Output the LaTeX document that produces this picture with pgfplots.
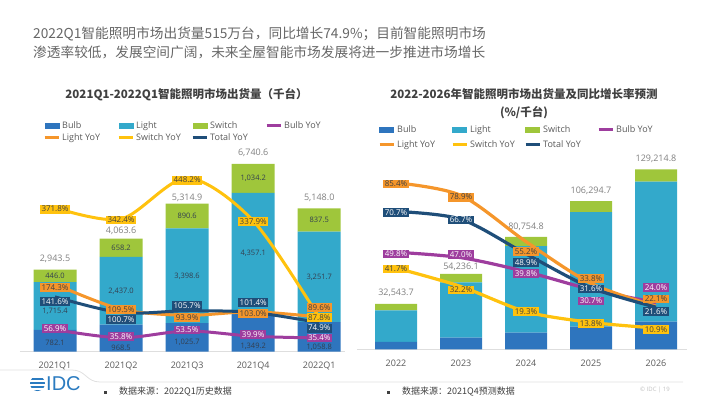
\documentclass[border=0pt]{standalone}
\usepackage{pgfplots}
\pgfplotsset{compat=1.18}
\usepackage{pgfplotstable}
\usepackage{fontspec}
\setmainfont{Open Sans}
\newfontfamily\cjk{Noto Sans CJK SC}
\newfontfamily\idcfont{Liberation Sans}
\definecolor{bulbc}{HTML}{2E75BE}
\definecolor{lightc}{HTML}{33A9CB}
\definecolor{switchc}{HTML}{9FC63B}
\definecolor{byoy}{HTML}{9E3D9E}
\definecolor{lyoy}{HTML}{F5962B}
\definecolor{syoy}{HTML}{FFC20E}
\definecolor{tyoy}{HTML}{1F4E79}
\definecolor{txtgray}{HTML}{595959}
\definecolor{titlegray}{HTML}{666666}
\definecolor{lbl}{HTML}{333F50}
\definecolor{totgray}{HTML}{808080}
\definecolor{idcblue}{HTML}{2B7BC0}
\definecolor{dark}{HTML}{404040}
\pgfkeys{/pgf/number format/assume math mode=true}

% ---------- left chart: YoY lines (x, value, label shift) ----------
\pgfplotstableread{
x y dy
0 56.9 1
1 35.8 1
2 53.5 1
3 39.9 2
4 35.4 0
}\LbY
\pgfplotstableread{
x y dy
0 174.3 -3
1 109.5 0
2 93.9 -2.4
3 103.0 -2
4 89.6 9.3
}\LlY
\pgfplotstableread{
x y dy
0 371.8 -1.4
1 342.4 -1
2 448.2 -2
3 337.9 -1
4 87.8 0
}\LsY
\pgfplotstableread{
x y dy
0 141.6 -4.5
1 100.7 -7
2 105.7 5.4
3 101.4 9.7
4 74.9 -5.4
}\LtY
% ---------- left chart: label positions (x, position, value) ----------
\pgfplotstableread{
x p v
0 301.6 782.1
1 122 968.5
2 323 1025.7
3 179.5 1349.2
4 158 1058.8
}\LbulbLab
\pgfplotstableread{
x p v
0 1436 1715.4
1 2187 2437.0
2 2725 3398.6
3 3528 4357.1
4 2685 3251.7
}\LlightLab
\pgfplotstableread{
x p v
0 2720.5 446.0
1 3734.6 658.2
2 4869.6 890.6
3 6223.4 1034.2
4 4729.3 837.5
}\LswitchLab
\pgfplotstableread{
x p v
0 3318 2943.5
1 4345 4063.6
2 5530 5314.9
3 7124 6740.6
4 5530 5148.0
}\LtotLab
% ---------- right chart ----------
\pgfplotstableread{
x y dy
0 49.8 -1.8
1 47.0 2.7
2 39.8 -1.6
3 30.7 -11.6
4 24.0 14.8
}\RbY
\pgfplotstableread{
x y dy
0 85.4 -1.2
1 78.9 -1.6
2 55.2 -10
3 33.8 5.1
4 22.1 7.2
}\RlY
\pgfplotstableread{
x y dy
0 41.7 -1
1 32.2 -3.5
2 19.3 0
3 13.8 -0.9
4 10.9 -1.3
}\RsY
\pgfplotstableread{
x y dy
0 70.7 -0.9
1 66.7 -0.8
2 48.9 -8.3
3 31.6 -1.3
4 21.6 -4.5
}\RtY
\pgfplotstableread{
x p v
0 40201 32543.7
1 58866 54236.1
2 88012 80754.8
3 113640 106294.7
4 136396 129214.8
}\RtotLab

\pgfplotsset{
  Lframe/.style={scale only axis, anchor=south west, at={(20pt,-351.7pt)}, width=325pt, height=191.7pt, xmin=-0.53, xmax=4.39, enlargelimits=false, clip=false},
  Rframe/.style={scale only axis, anchor=south west, at={(357pt,-349.3pt)}, width=330pt, height=189.3pt, xmin=-0.6, xmax=4.477, enlargelimits=false, clip=false},
  barax/.style={ybar stacked, ymin=0, axis x line*=bottom, axis y line=none, x axis line style={draw=black!13, line width=0.8pt, -}, xtick={0,...,4}, major tick length=0pt, xtick style={draw=none}, xticklabel style={font=\fontsize{9}{10}\selectfont, text=txtgray, yshift=-7pt}},
  seglab/.style={draw=none, mark=none, point meta=explicit, nodes near coords={\pgfmathprintnumber[fixed,fixed zerofill,precision=1,1000 sep={,}]{\pgfplotspointmeta}}, every node near coord/.append style={anchor=center, font=\fontsize{7.5}{8}\selectfont, text=lbl, inner sep=0pt}},
  totlab/.style={draw=none, mark=none, point meta=explicit, nodes near coords={\pgfmathprintnumber[fixed,fixed zerofill,precision=1,1000 sep={,}]{\pgfplotspointmeta}}, every node near coord/.append style={anchor=center, font=\fontsize{9}{10}\selectfont, text=totgray, inner sep=0pt}},
  yoylab/.style n args={2}{draw=none, mark=none, forget plot, point meta=y, visualization depends on={\thisrow{dy}\as\lbldy}, nodes near coords={\pgfmathprintnumber[fixed,fixed zerofill,precision=1]{\pgfplotspointmeta}\%}, every node near coord/.append style={anchor=center, yshift=\lbldy*1pt, fill=#1, text=#2, font=\fontsize{8}{9}\selectfont, inner sep=1.5pt}},
}

\begin{document}
\begin{tikzpicture}
% ---------- headline ----------
\node[anchor=base west, inner sep=0pt, text=titlegray, font=\cjk\fontsize{13.7}{16}\selectfont] at (33pt,-38pt) {2022Q1智能照明市场出货量515万台，同比增长74.9\%；目前智能照明市场};
\node[anchor=base west, inner sep=0pt, text=titlegray, font=\cjk\fontsize{13.7}{16}\selectfont] at (33pt,-57.5pt) {渗透率较低，发展空间广阔，未来全屋智能市场发展将进一步推进市场增长};
% ---------- chart titles ----------
\node[inner sep=0pt, text=dark, font=\cjk\bfseries\fontsize{11.5}{14}\selectfont] at (186.5pt,-94.3pt) {2021Q1-2022Q1智能照明市场出货量（千台）};
\node[inner sep=0pt, text=dark, font=\cjk\bfseries\fontsize{11.5}{14}\selectfont] at (524pt,-94.3pt) {2022-2026年智能照明市场出货量及同比增长率预测};
\node[inner sep=0pt, text=dark, font=\cjk\bfseries\fontsize{11.5}{14}\selectfont] at (524pt,-113pt) {(\%/千台)};

% ================= LEFT CHART =================
\begin{axis}[Lframe, barax, ymax=6883, bar width=43pt,
  xticklabels={2021Q1,2021Q2,2021Q3,2021Q4,2022Q1}]
\addplot[fill=bulbc, draw=none] coordinates {(0,782.1) (1,968.5) (2,1025.7) (3,1349.2) (4,1058.8)};
\addplot[fill=lightc, draw=none] coordinates {(0,1715.4) (1,2437.0) (2,3398.6) (3,4357.1) (4,3251.7)};
\addplot[fill=switchc, draw=none] coordinates {(0,446.0) (1,658.2) (2,890.6) (3,1034.2) (4,837.5)};
\end{axis}
\begin{axis}[Lframe, hide axis, ymin=0, ymax=6883]
\addplot[seglab] table[x=x,y=p,meta=v] {\LbulbLab};
\addplot[seglab] table[x=x,y=p,meta=v] {\LlightLab};
\addplot[seglab] table[x=x,y=p,meta=v] {\LswitchLab};
\addplot[totlab] table[x=x,y=p,meta=v] {\LtotLab};
\end{axis}
\begin{axis}[Lframe, hide axis, ymin=0, ymax=494.8,
  legend columns=4, legend cell align=left,
  legend style={at={(axis description cs:0.0708,1.2139)}, anchor=north west, draw=none, fill=none, inner sep=0pt, font=\fontsize{9}{10}\selectfont, text=txtgray, row sep=0pt, nodes={inner sep=2pt}},
  legend image code/.code={\draw[#1, line width=3pt] (0pt,0pt) -- (14pt,0pt);}]
\addlegendimage{legend image code/.code={\fill[bulbc] (0pt,-2.5pt) rectangle (14pt,2.5pt);}}
\addlegendentry{\makebox[53pt][l]{Bulb}}
\addlegendimage{legend image code/.code={\fill[lightc] (0pt,-2.5pt) rectangle (14pt,2.5pt);}}
\addlegendentry{\makebox[53pt][l]{Light}}
\addlegendimage{legend image code/.code={\fill[switchc] (0pt,-2.5pt) rectangle (14pt,2.5pt);}}
\addlegendentry{\makebox[53pt][l]{Switch}}
\addplot[byoy, line width=3pt, smooth] table[x=x,y=y] {\LbY};
\addlegendentry{Bulb YoY}
\addplot[lyoy, line width=3pt, smooth] table[x=x,y=y] {\LlY};
\addlegendentry{\makebox[53pt][l]{Light YoY}}
\addplot[syoy, line width=3pt, smooth] table[x=x,y=y] {\LsY};
\addlegendentry{\makebox[53pt][l]{Switch YoY}}
\addplot[tyoy, line width=3pt, smooth] table[x=x,y=y] {\LtY};
\addlegendentry{Total YoY}
\addplot[yoylab={byoy}{white}] table[x=x,y=y] {\LbY};
\addplot[yoylab={lyoy}{dark}] table[x=x,y=y] {\LlY};
\addplot[yoylab={syoy}{dark}] table[x=x,y=y] {\LsY};
\addplot[yoylab={tyoy}{white}] table[x=x,y=y] {\LtY};
\end{axis}

% ================= RIGHT CHART =================
\begin{axis}[Rframe, barax, ymax=135894, bar width=42pt,
  xticklabels={2022,2023,2024,2025,2026}]
\addplot[fill=bulbc, draw=none] coordinates {(0,5400) (1,8300) (2,11900) (3,16220) (4,19800)};
\addplot[fill=lightc, draw=none] coordinates {(0,22500) (1,39736.1) (2,62104.8) (3,82174.7) (4,100514.8)};
\addplot[fill=switchc, draw=none] coordinates {(0,4643.7) (1,6200) (2,6750) (3,7900) (4,8900)};
\end{axis}
\begin{axis}[Rframe, hide axis, ymin=0, ymax=135894]
\addplot[totlab] table[x=x,y=p,meta=v] {\RtotLab};
\end{axis}
\begin{axis}[Rframe, hide axis, ymin=0, ymax=97.08,
  legend columns=4, legend cell align=left,
  legend style={at={(axis description cs:0.0636,1.1955)}, anchor=north west, draw=none, fill=none, inner sep=0pt, font=\fontsize{9}{10}\selectfont, text=txtgray, row sep=3pt, nodes={inner sep=2pt}},
  legend image code/.code={\draw[#1, line width=3pt] (0pt,0pt) -- (14pt,0pt);}]
\addlegendimage{legend image code/.code={\fill[bulbc] (0pt,-2.5pt) rectangle (14pt,2.5pt);}}
\addlegendentry{\makebox[52pt][l]{Bulb}}
\addlegendimage{legend image code/.code={\fill[lightc] (0pt,-2.5pt) rectangle (14pt,2.5pt);}}
\addlegendentry{\makebox[52pt][l]{Light}}
\addlegendimage{legend image code/.code={\fill[switchc] (0pt,-2.5pt) rectangle (14pt,2.5pt);}}
\addlegendentry{\makebox[52pt][l]{Switch}}
\addplot[byoy, line width=3.2pt, smooth] table[x=x,y=y] {\RbY};
\addlegendentry{Bulb YoY}
\addplot[lyoy, line width=3.2pt, smooth] table[x=x,y=y] {\RlY};
\addlegendentry{\makebox[52pt][l]{Light YoY}}
\addplot[syoy, line width=3.2pt, smooth] table[x=x,y=y] {\RsY};
\addlegendentry{\makebox[52pt][l]{Switch YoY}}
\addplot[tyoy, line width=3.2pt, smooth] table[x=x,y=y] {\RtY};
\addlegendentry{Total YoY}
\addplot[yoylab={byoy}{white}] table[x=x,y=y] {\RbY};
\addplot[yoylab={lyoy}{dark}] table[x=x,y=y] {\RlY};
\addplot[yoylab={syoy}{dark}] table[x=x,y=y] {\RsY};
\addplot[yoylab={tyoy}{white}] table[x=x,y=y] {\RtY};
\end{axis}

% ---------- footer ----------
\draw[black!12, line width=0.8pt] (0pt,-370pt) -- (72pt,-370pt) .. controls (86pt,-370pt) and (86pt,-382pt) .. (100pt,-382pt) -- (683pt,-382pt);
\begin{scope}
\clip (37.5pt,-383.5pt) circle (7.5pt);
\foreach \yy in {-377.5,-381.5,-385.5,-389.5}{\fill[idcblue] (29pt,\yy pt) rectangle (46pt,\yy pt - 2.3pt);}
\end{scope}
\node[anchor=west, inner sep=0pt, text=idcblue, font=\idcfont\fontsize{20}{22}\selectfont] at (46pt,-383.5pt) {IDC};
\fill[dark] (103.5pt,-390.5pt) rectangle (106.5pt,-393.5pt);
\node[anchor=west, inner sep=0pt, text=dark, font=\cjk\fontsize{9}{11}\selectfont] at (119pt,-392pt) {数据来源：2022Q1历史数据};
\fill[dark] (386.5pt,-390.5pt) rectangle (389.5pt,-393.5pt);
\node[anchor=west, inner sep=0pt, text=dark, font=\cjk\fontsize{9}{11}\selectfont] at (402pt,-392pt) {数据来源：2021Q4预测数据};
\node[inner sep=0pt, text=black!25, font=\fontsize{6}{7}\selectfont] at (655pt,-390pt) {\textcopyright{} IDC \textbar{}  19};

\pgfresetboundingbox
\path (0pt,0pt) rectangle (710pt,-399pt);
\end{tikzpicture}
\end{document}
